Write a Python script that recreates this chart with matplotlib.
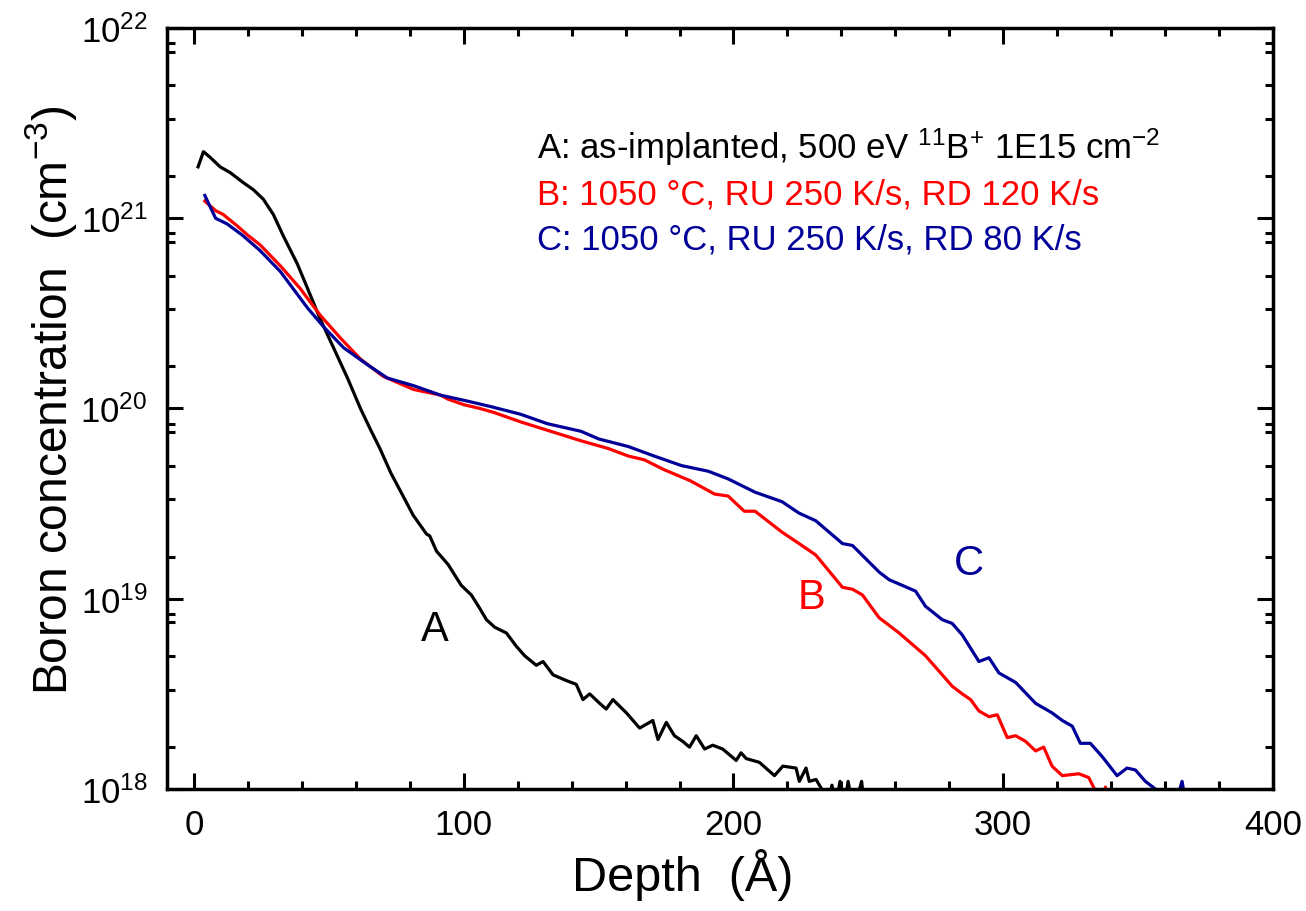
import numpy as np
import matplotlib.pyplot as plt
from matplotlib.ticker import FixedLocator, NullFormatter

plt.rcParams['font.family'] = 'Liberation Sans'
plt.rcParams['mathtext.fontset'] = 'custom'
plt.rcParams['mathtext.rm'] = 'Liberation Sans'
plt.rcParams['mathtext.it'] = 'Liberation Sans:italic'
plt.rcParams['mathtext.default'] = 'regular'

# depth (Angstrom) and log10 of boron concentration (cm^-3)
depth_a = [1.5, 3.5, 6, 9.7, 13.4, 18, 22, 25.7, 29.4, 33, 38.3, 43, 46.8, 51.7, 56.9,
           61.7, 65.4, 68.9, 73, 77.5, 81.2, 86.2, 87.4, 89.9, 94.2, 97.3, 99.1, 102.8,
           105.9, 108.4, 111.5, 115.8, 119.5, 122.6, 126.9, 129.4, 133.1, 138.0, 141.7,
           144.2, 146.7, 150.4, 152.8, 155.3, 160.3, 165.2, 170.1, 172, 175.1, 178.1,
           181.2, 183.7, 186.2, 189.3, 192.3, 196, 201, 202.8, 204.7, 209.6, 215.2,
           218.3, 223.2, 224.4, 226.9, 228.1, 230.6, 233.1, 235, 236.5, 238, 239.5,
           241, 242.5, 244, 246, 247.5, 249]
log_a = [21.27, 21.35, 21.32, 21.27, 21.24, 21.19, 21.15, 21.1, 21.02, 20.91, 20.76,
         20.6, 20.47, 20.32, 20.16, 20.0, 19.89, 19.79, 19.66, 19.54, 19.44, 19.34,
         19.33, 19.25, 19.18, 19.11, 19.07, 19.02, 18.95, 18.89, 18.85, 18.82, 18.75,
         18.70, 18.65, 18.67, 18.60, 18.57, 18.55, 18.47, 18.50, 18.45, 18.42, 18.47,
         18.40, 18.32, 18.36, 18.26, 18.35, 18.28, 18.25, 18.22, 18.28, 18.21, 18.23,
         18.21, 18.15, 18.19, 18.16, 18.14, 18.07, 18.12, 18.11, 18.04, 18.11, 18.04,
         18.05, 17.99, 17.93, 18.02, 17.92, 18.04, 17.9, 18.04, 17.92, 17.96, 18.04, 17.85]

depth_b = [4, 8, 10.8, 16, 20, 24.5, 32, 39.4, 46.8, 54.3, 61.7, 70, 81.4, 91.4, 94,
           100, 106, 111, 121, 130, 143.5, 153.5, 161, 167, 174, 184, 193, 198, 204,
           208, 218, 224.3, 230.5, 240.4, 244.1, 247.8, 254, 261.4, 271.2, 277.4,
           281.1, 284.8, 287.9, 291, 294.7, 297.8, 301.5, 304.6, 308.3, 312, 315,
           318.1, 321.9, 328, 331.7, 334.2, 336, 337.9, 339.5]
log_b = [21.09, 21.04, 21.02, 20.96, 20.91, 20.86, 20.75, 20.63, 20.49, 20.37, 20.26,
         20.17, 20.1, 20.07, 20.05, 20.02, 20.0, 19.98, 19.93, 19.89, 19.83, 19.79,
         19.75, 19.73, 19.68, 19.62, 19.55, 19.54, 19.46, 19.46, 19.35, 19.29, 19.23,
         19.06, 19.05, 19.02, 18.9, 18.82, 18.7, 18.6, 18.54, 18.5, 18.47, 18.41,
         18.38, 18.39, 18.27, 18.28, 18.25, 18.2, 18.22, 18.12, 18.07, 18.08, 18.06,
         17.99, 17.9, 18.01, 17.9]

depth_c = [4, 8, 12.3, 18, 24.5, 32, 42, 48, 55.4, 64.3, 71.7, 81.4, 91.4, 101, 110,
           121, 131, 143.5, 150, 161, 170.6, 180.7, 190.7, 198, 208, 218, 224.3,
           230.5, 240.4, 244.1, 254, 257.7, 267.5, 271.2, 277.4, 281.1, 284.8, 291,
           294.7, 298.4, 304.6, 312, 318.1, 321.9, 325.6, 328.6, 332.3, 336.7, 342.2,
           345.9, 349, 352.7, 356.4, 360, 364.5, 366.3, 368]
log_c = [21.12, 21.0, 20.97, 20.91, 20.83, 20.72, 20.53, 20.43, 20.32, 20.23, 20.16,
         20.12, 20.07, 20.04, 20.01, 19.97, 19.92, 19.88, 19.84, 19.8, 19.75, 19.7,
         19.67, 19.63, 19.56, 19.51, 19.45, 19.41, 19.29, 19.28, 19.14, 19.1, 19.04,
         18.96, 18.89, 18.87, 18.81, 18.67, 18.69, 18.61, 18.56, 18.45, 18.4, 18.36,
         18.33, 18.24, 18.24, 18.17, 18.07, 18.11, 18.1, 18.04, 18.0, 17.9, 17.95,
         18.04, 17.9]

legend_lines = [r'A: as-implanted, 500 eV $^{11}$B$^{+}$ 1E15 cm$^{-2}$',
                'B: 1050 °C, RU 250 K/s, RD 120 K/s',
                'C: 1050 °C, RU 250 K/s, RD 80 K/s']
legend_y = [21.38, 21.126, 20.889]

black, red, blue = '#000000', '#ff0000', '#000099'

fig = plt.figure(figsize=(13.06, 9.12), dpi=100)
ax = fig.add_axes([0.1279, 0.1338, 0.8468, 0.8344])

ax.plot(depth_a, 10 ** np.array(log_a), color=black, lw=2.3)
ax.plot(depth_b, 10 ** np.array(log_b), color=red, lw=2.3)
ax.plot(depth_c, 10 ** np.array(log_c), color=blue, lw=2.3)

ax.set_yscale('log')
ax.set_xlim(-10, 400)
ax.set_ylim(1e18, 1e22)

ax.set_xticks([0, 100, 200, 300, 400])
ax.xaxis.set_minor_locator(FixedLocator(np.arange(0, 401, 20)))
ax.yaxis.set_major_locator(FixedLocator([1e18, 1e19, 1e20, 1e21, 1e22]))
ax.set_yticklabels([r'$10^{%d}$' % n for n in range(18, 23)])
minor = [10.0 ** n * f for n in range(18, 22) for f in (10 / 6, 10 / 3, 5, 7.5, 25 / 3)]
ax.yaxis.set_minor_locator(FixedLocator(minor))
ax.yaxis.set_minor_formatter(NullFormatter())

ax.tick_params(which='both', direction='in', top=True, right=True, width=2.2)
ax.tick_params(which='major', length=11.5, labelsize=25, pad=14)
ax.tick_params(which='minor', length=5.8)
for s in ax.spines.values():
    s.set_linewidth(2.5)

ax.set_xlabel('Depth  (Å)', fontsize=35)
ax.xaxis.set_label_coords(0.466, -0.078)
ax.set_ylabel(r'Boron concentration  (cm$^{-3}$)', fontsize=34.5)
ax.yaxis.set_label_coords(-0.08, 0.512)

for txt, y, c in zip(legend_lines, legend_y, [black, red, blue]):
    ax.text(127, 10 ** y, txt, color=c, fontsize=25, va='center', ha='left')

ax.text(89.3, 10 ** 18.84, 'A', color=black, fontsize=30, ha='center', va='center')
ax.text(228.9, 10 ** 19.01, 'B', color=red, fontsize=30, ha='center', va='center')
ax.text(287.4, 10 ** 19.19, 'C', color=blue, fontsize=30, ha='center', va='center')

fig.savefig('out.png', dpi=100)
